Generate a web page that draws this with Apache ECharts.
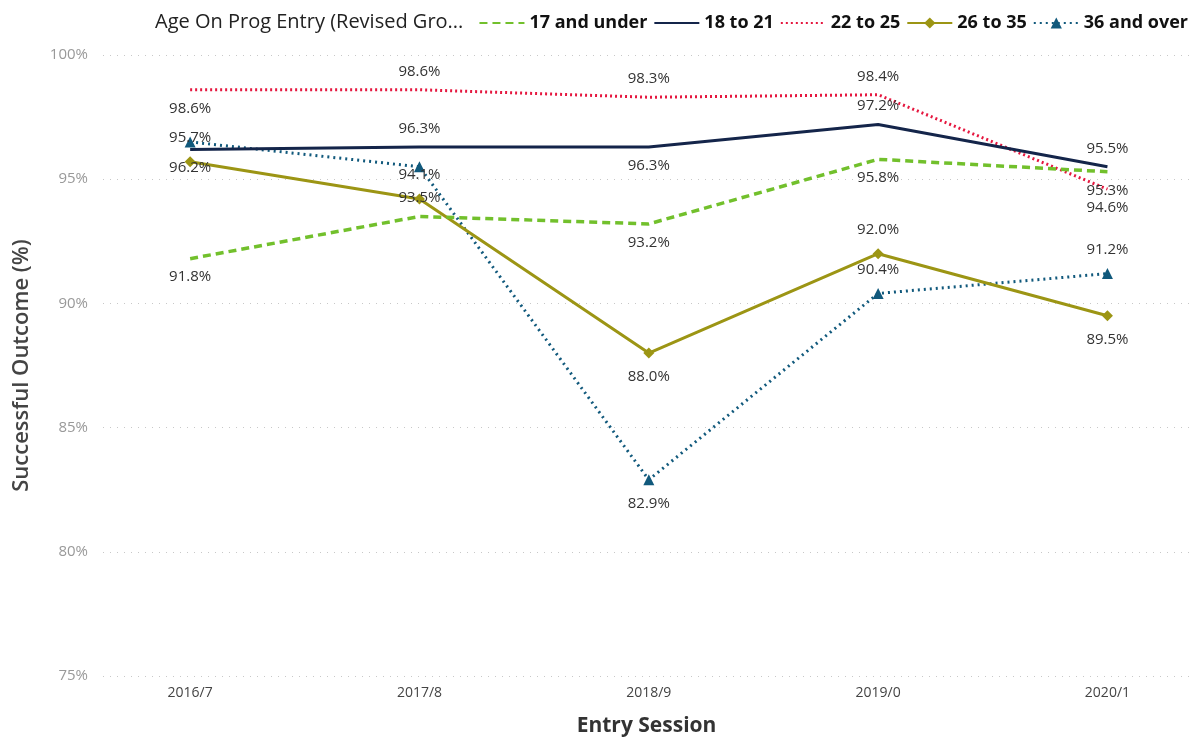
<!DOCTYPE html>
<html>
<head>
<meta charset="utf-8">
<script src="https://cdn.jsdelivr.net/npm/echarts@6/dist/echarts.min.js"></script>
<style>
  html, body { margin: 0; padding: 0; background: #fff; }
  .root { width: 1203px; height: 738px; }
</style>
</head>
<body>
<div class="root"></div>
<script>
const rootEl = document.querySelector('.root')

const sessions = ['2016/7', '2017/8', '2018/9', '2019/0', '2020/1']
const ageGroups = ['17 and under', '18 to 21', '22 to 25', '26 to 35', '36 and over']
const under17 = [91.8, 93.5, 93.2, 95.8, 95.3]
const age18to21 = [96.2, 96.3, 96.3, 97.2, 95.5]
const age22to25 = [98.6, 98.6, 98.3, 98.4, 94.6]
const age26to35 = [95.7, 94.2, 88.0, 92.0, 89.5]
const over36 = [96.5, 95.5, 82.9, 90.4, 91.2]
const yTicks = [75, 80, 85, 90, 95, 100]

// where each point's label sits (none = hidden by overlap)
const labelPos = [
  ['bottom', 'top', 'bottom', 'bottom', 'bottom'],
  ['bottom', 'top', 'bottom', 'top', 'top'],
  ['bottom', 'top', 'top', 'top', 'bottom'],
  ['top', 'top', 'bottom', 'top', 'bottom'],
  ['none', 'none', 'bottom', 'top', 'top']
]
// shown label text (Power BI rounds a bit differently)
const labelText = [
  ['91.8%', '93.5%', '93.2%', '95.8%', '95.3%'],
  ['96.2%', '96.3%', '96.3%', '97.2%', '95.5%'],
  ['98.6%', '98.6%', '98.3%', '98.4%', '94.6%'],
  ['95.7%', '94.1%', '88.0%', '92.0%', '89.5%'],
  ['', '', '82.9%', '90.4%', '91.2%']
]

const seriesValues = [under17, age18to21, age22to25, age26to35, over36]
const colors = ['#72C02C', '#14254A', '#E5173F', '#9C9514', '#11597C']
const lineTypes = [[8, 5], 'solid', [2, 3], 'solid', [2, 4]]
const symbols = ['circle', 'circle', 'circle', 'diamond', 'triangle']
const symbolSizes = [0, 0, 0, 11, 11]

const buildData = (vals, s) => vals.map((v, i) => ({
  value: [i, v],
  label: {
    show: labelPos[s][i] !== 'none',
    position: labelPos[s][i],
    formatter: labelText[s][i]
  }
}))

const series = ageGroups.map((name, s) => ({
  name,
  type: 'line',
  data: buildData(seriesValues[s], s),
  symbol: symbols[s],
  symbolSize: symbolSizes[s],
  showSymbol: true,
  color: colors[s],
  lineStyle: { width: s === 0 ? 3.5 : 3, type: lineTypes[s], color: colors[s] },
  itemStyle: { color: colors[s], opacity: 1 },
  label: {
    distance: 11,
    color: '#333',
    fontSize: 15,
    fontFamily: 'Open Sans'
  },
  emphasis: { disabled: true },
  z: 10 - s
}))

const option = {
  animation: false,
  title: {
    text: 'Age On Prog Entry (Revised Gro...',
    left: 150,
    top: 7,
    textStyle: { fontFamily: 'Open Sans', fontSize: 20, fontWeight: 'normal', color: '#222' }
  },
  legend: {
    data: ageGroups.map((name, s) => ({
      name,
      itemStyle: { opacity: symbolSizes[s] ? 1 : 0 }
    })),
    right: 10,
    top: 9,
    itemWidth: 45,
    itemHeight: 14,
    itemGap: 6,
    textStyle: { fontFamily: 'Open Sans', fontSize: 18, fontWeight: 'bold', color: '#111' }
  },
  grid: { left: 103, right: 13, top: 55, bottom: 62, outerBoundsMode: 'none' },
  xAxis: {
    type: 'value',
    min: -0.38,
    max: 4.36,
    name: 'Entry Session',
    nameLocation: 'middle',
    nameGap: 40,
    nameTextStyle: { fontFamily: 'Open Sans', fontSize: 21, fontWeight: 'bold', color: '#333' },
    axisLine: { show: false },
    axisTick: { show: false },
    splitLine: { show: false },
    axisLabel: {
      customValues: sessions.map((_, i) => i),
      formatter: v => sessions[v],
      margin: 10,
      fontFamily: 'Open Sans',
      fontSize: 14,
      color: '#444'
    }
  },
  yAxis: {
    type: 'value',
    min: yTicks[0],
    max: yTicks[yTicks.length - 1],
    interval: 5,
    name: 'Successful Outcome (%)',
    nameLocation: 'middle',
    nameGap: 70,
    nameTextStyle: { fontFamily: 'Open Sans', fontSize: 22, fontWeight: 600, color: '#444' },
    axisLine: { show: false },
    axisTick: { show: false },
    axisLabel: {
      formatter: v => v + '%',
      margin: 15,
      fontFamily: 'Open Sans',
      fontSize: 15,
      color: '#999'
    },
    splitLine: { lineStyle: { type: [1, 6], color: '#c8c8c8', width: 1 } }
  },
  series
}

const chart = echarts.init(rootEl, null, { renderer: 'canvas' })
chart.setOption(option)
</script>
</body>
</html>
